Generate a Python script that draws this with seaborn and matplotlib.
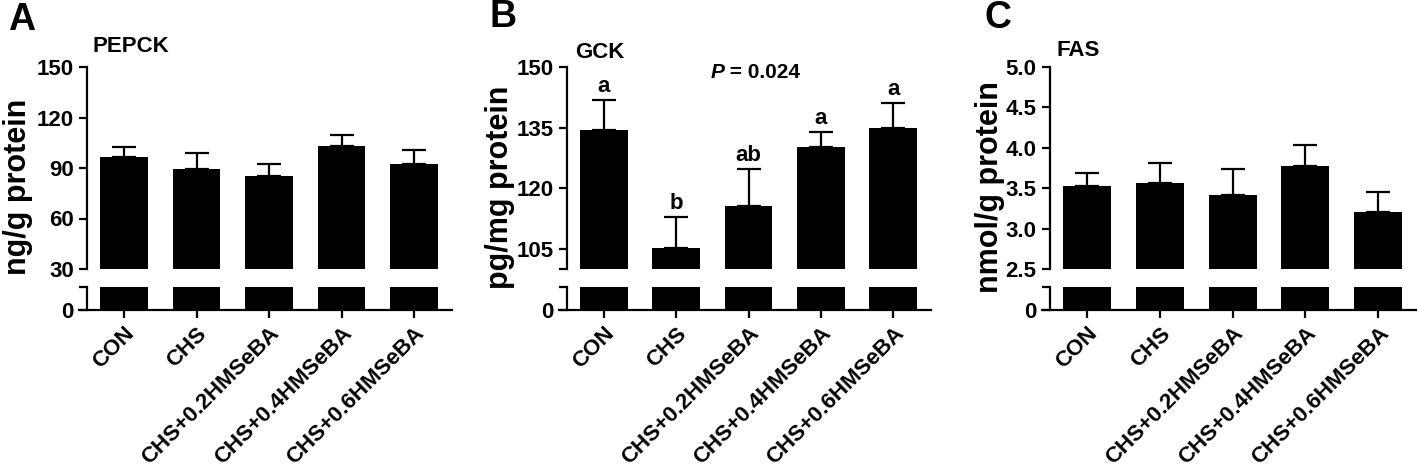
import matplotlib
matplotlib.use("Agg")
import matplotlib.pyplot as plt
import seaborn as sns

# Values (mean and upper error bar)
groups = ["CON", "CHS", "CHS+0.2HMSeBA", "CHS+0.4HMSeBA", "CHS+0.6HMSeBA"]

pepck_mean = [96.3, 89.7, 85.0, 102.8, 92.1]
pepck_err = [5.9, 9.0, 7.1, 6.6, 8.3]

gck_mean = [134.5, 105.3, 115.6, 130.3, 134.9]
gck_err = [7.4, 7.6, 9.1, 3.7, 6.3]
gck_letters = ["a", "b", "ab", "a", "a"]

fas_mean = [3.53, 3.56, 3.41, 3.77, 3.21]
fas_err = [0.16, 0.25, 0.33, 0.27, 0.24]

pepck_ticks = [30, 60, 90, 120, 150]
gck_ticks = [100, 105, 120, 135, 150]
gck_ticklabels = ["", "105", "120", "135", "150"]
fas_ticks = [2.5, 3.0, 3.5, 4.0, 4.5, 5.0]

sns.set_style("ticks")
plt.rcParams["font.family"] = ["Liberation Sans", "DejaVu Sans"]
plt.rcParams["font.weight"] = "bold"
for k in ["text.color", "axes.labelcolor", "xtick.color", "ytick.color", "axes.edgecolor"]:
    plt.rcParams[k] = "black"

W, H = 1418, 475
fig = plt.figure(figsize=(W / 100, H / 100), dpi=100)

XMIN, XMAX = -0.62, 4.52
LW = 1.6


def draw_panel(x0, step, mean, err, ylim, yticks, yticklabels, lower_top,
               letter, letter_xy, title, title_xy, ylabel, ylabel_x):
    left = (x0 + XMIN * step) / W
    width = (XMAX - XMIN) * step / W
    ax = fig.add_axes([left, 1 - 269 / H, width, (269 - 67) / H])
    axl = fig.add_axes([left, 1 - 310 / H, width, (310 - 287) / H])

    for a in (ax, axl):
        sns.barplot(x=groups, y=mean, color="black", width=0.66, saturation=1,
                    errorbar=None, ax=a, linewidth=0, zorder=2)
        a.set_xlim(XMIN, XMAX)
        a.set_xlabel("")
        a.set_ylabel("")
        a.spines["top"].set_visible(False)
        a.spines["right"].set_visible(False)
        a.spines["left"].set_position(("data", -0.51))
        for s in a.spines.values():
            s.set_linewidth(LW)
        a.tick_params(axis="both", width=LW, length=6, labelsize=16)

    # error bars drawn under the bars so only the upper half shows
    ax.errorbar(range(len(mean)), mean, yerr=[[0] * len(mean), err], fmt="none",
                ecolor="black", elinewidth=LW, capsize=8.5, capthick=LW, zorder=1)
    ax.set_ylim(*ylim)
    ax.set_yticks(yticks)
    ax.set_yticklabels(yticklabels)
    ax.spines["bottom"].set_visible(False)
    ax.tick_params(axis="x", bottom=False, labelbottom=False)

    axl.set_ylim(0, lower_top)
    axl.set_yticks([0, lower_top])
    axl.set_yticklabels(["0", ""])
    axl.set_xticks(range(len(groups)))
    axl.set_xticklabels(groups, rotation=45, ha="right", rotation_mode="anchor",
                        fontsize=16, fontweight="bold")

    fig.text(letter_xy[0] / W, 1 - letter_xy[1] / H, letter, fontsize=27,
             fontweight="bold", va="center", ha="left")
    fig.text(title_xy[0] / W, 1 - title_xy[1] / H, title, fontsize=16,
             fontweight="bold", va="center", ha="left")
    fig.text(ylabel_x / W, 1 - 187 / H, ylabel, fontsize=22, fontweight="bold",
             rotation=90, va="center", ha="center")
    return ax


# A: PEPCK
draw_panel(124, 72.5, pepck_mean, pepck_err, (30, 150), pepck_ticks,
           [str(t) for t in pepck_ticks], 15,
           "A", (8, 20), "PEPCK", (93, 46), "ng/g protein", 18)

# B: GCK
axb = draw_panel(604, 72.3, gck_mean, gck_err, (100, 150), gck_ticks,
                 gck_ticklabels, 15,
                 "B", (490, 17), "GCK", (575, 52), "pg/mg protein", 500)
for i, lab in enumerate(gck_letters):
    axb.annotate(lab, (i, gck_mean[i] + gck_err[i]), xytext=(0, 2),
                 textcoords="offset points", ha="center", va="bottom",
                 fontsize=16, fontweight="bold")
ptxt = axb.text(1.47, 148.6, "P", fontsize=15, fontweight="bold",
                fontstyle="italic", ha="left", va="center")
axb.annotate(" = 0.024", xy=(1, 0), xycoords=ptxt, ha="left", va="bottom",
             fontsize=15, fontweight="bold")

# C: FAS
draw_panel(1087, 72.8, fas_mean, fas_err, (2.5, 5.0), fas_ticks,
           [f"{t:.1f}" for t in fas_ticks], 0.3,
           "C", (984, 18), "FAS", (1056, 50), "nmol/g protein", 990)

fig.savefig("out.png", dpi=100)
